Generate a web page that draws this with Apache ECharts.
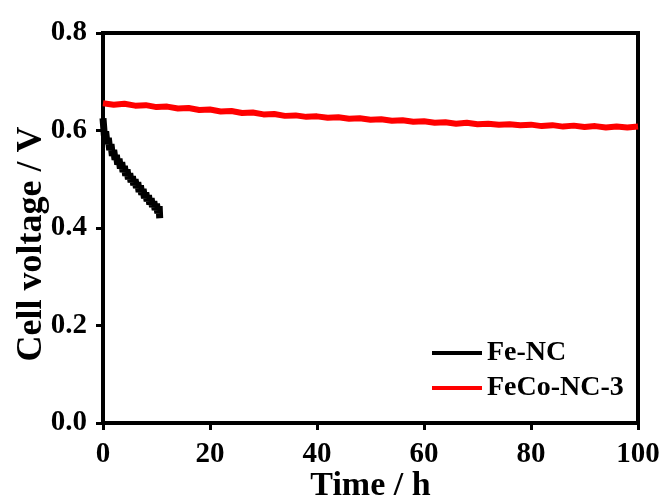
<!DOCTYPE html>
<html>
<head>
<meta charset="utf-8">
<title>Cell voltage vs time</title>
<script src="https://cdn.jsdelivr.net/npm/echarts@6/dist/echarts.min.js"></script>
<style>
    html, body { margin: 0; padding: 0; background: #fff; }
    #chart { width: 668px; height: 497px; }
</style>
</head>
<body>
<div id="chart"></div>
<script>
// Fe-NC: short test, voltage drops fast
var feTime = [0, 0.25, 0.5, 0.75, 1, 1.25, 1.5, 1.75, 2, 2.25, 2.5, 2.75, 3, 3.25, 3.5, 3.75,
    4, 4.25, 4.5, 4.75, 5, 5.25, 5.5, 5.75, 6, 6.25, 6.5, 6.75, 7, 7.25, 7.5, 7.75,
    8, 8.25, 8.5, 8.75, 9, 9.25, 9.5, 9.75, 10, 10.25, 10.5, 10.6];
var feVolt = [0.625, 0.590, 0.598, 0.572, 0.585, 0.560, 0.572, 0.548, 0.560, 0.540, 0.550, 0.530, 0.542, 0.522, 0.535, 0.515,
    0.527, 0.507, 0.520, 0.500, 0.512, 0.494, 0.506, 0.488, 0.500, 0.482, 0.494, 0.474, 0.487, 0.468, 0.480, 0.461,
    0.473, 0.455, 0.467, 0.448, 0.461, 0.443, 0.455, 0.437, 0.450, 0.430, 0.445, 0.420];

// FeCo-NC-3: 100 h, slow decay
var fecoTime = [0, 2, 4, 6, 8, 10, 12, 14, 16, 18, 20, 22, 24, 26, 28, 30, 32, 34, 36, 38, 40,
    42, 44, 46, 48, 50, 52, 54, 56, 58, 60, 62, 64, 66, 68, 70, 72, 74, 76, 78, 80,
    82, 84, 86, 88, 90, 92, 94, 96, 98, 100];
var fecoVolt = [0.656, 0.653, 0.655, 0.651, 0.652, 0.648, 0.649, 0.645, 0.646, 0.642, 0.643, 0.639, 0.640, 0.636, 0.637, 0.633, 0.634, 0.630, 0.631, 0.628, 0.629,
    0.626, 0.627, 0.624, 0.625, 0.622, 0.623, 0.620, 0.621, 0.618, 0.619, 0.616, 0.617, 0.614, 0.616, 0.613, 0.614, 0.612, 0.613, 0.611, 0.612,
    0.609, 0.611, 0.608, 0.610, 0.607, 0.609, 0.606, 0.608, 0.606, 0.608];

var xTicks = [0, 20, 40, 60, 80, 100];
var yTicks = [0.0, 0.2, 0.4, 0.6, 0.8];

function zip(a, b) {
    return a.map(function (v, i) { return [v, b[i]]; });
}

var font = "'Liberation Serif', 'Times New Roman', serif";

var myChart = echarts.init(document.getElementById('chart'));
var option = {
    backgroundColor: '#fff',
    animation: false,
    grid: {
        left: 103,
        right: 30,
        top: 33,
        bottom: 74,
        outerBoundsMode: 'none',
        show: true,
        borderColor: '#000',
        borderWidth: 4
    },
    legend: {
        orient: 'vertical',
        left: 427,
        top: 334,
        icon: 'rect',
        itemWidth: 50,
        itemHeight: 4,
        itemGap: 7,
        textStyle: {
            fontFamily: font,
            fontWeight: 'bold',
            fontSize: 28,
            lineHeight: 28,
            color: '#000',
            padding: [0, 0, 0, 0]
        },
        data: ['Fe-NC', 'FeCo-NC-3']
    },
    xAxis: {
        type: 'value',
        min: 0,
        max: 100,
        interval: 20,
        name: 'Time / h',
        nameLocation: 'middle',
        nameGap: 46,
        nameMoveOverlap: false,
        nameTextStyle: { fontFamily: font, fontWeight: 'bold', fontSize: 34, color: '#000' },
        axisLine: { lineStyle: { color: '#000', width: 4 } },
        axisTick: { show: true, length: 7, lineStyle: { color: '#000', width: 3 } },
        axisLabel: {
            fontFamily: font, fontWeight: 'bold', fontSize: 29, color: '#000', margin: 17,
            formatter: function (v) { return xTicks.indexOf(v) >= 0 ? String(v) : ''; }
        },
        splitLine: { show: false }
    },
    yAxis: {
        type: 'value',
        min: 0,
        max: 0.8,
        interval: 0.2,
        name: 'Cell voltage / V',
        nameLocation: 'middle',
        nameGap: 53,
        nameMoveOverlap: false,
        nameTextStyle: { fontFamily: font, fontWeight: 'bold', fontSize: 36, color: '#000', padding: [0, 32, 0, 0] },
        axisLine: { show: true, lineStyle: { color: '#000', width: 4 } },
        axisTick: { show: true, length: 7, lineStyle: { color: '#000', width: 3 } },
        axisLabel: {
            fontFamily: font, fontWeight: 'bold', fontSize: 29, color: '#000', margin: 16,
            formatter: function (v) { return v.toFixed(1); }
        },
        splitLine: { show: false }
    },
    series: [
        {
            name: 'Fe-NC',
            type: 'line',
            showSymbol: false,
            color: '#000',
            lineStyle: { color: '#000', width: 7 },
            data: zip(feTime, feVolt)
        },
        {
            name: 'FeCo-NC-3',
            type: 'line',
            showSymbol: false,
            color: '#ff0000',
            lineStyle: { color: '#ff0000', width: 6 },
            data: zip(fecoTime, fecoVolt)
        }
    ]
};
myChart.setOption(option);
</script>
</body>
</html>
